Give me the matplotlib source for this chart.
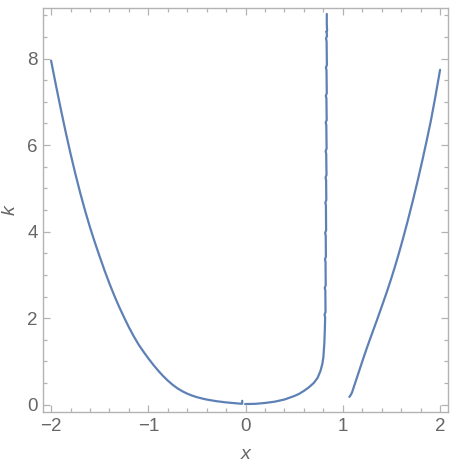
import matplotlib
matplotlib.use("Agg")
import matplotlib.pyplot as plt
from matplotlib.ticker import MultipleLocator

plt.rcParams['font.family'] = ['Liberation Sans', 'DejaVu Sans']

# Left branch (x, k)
left_x = [-2.0, -1.95, -1.9, -1.85, -1.8, -1.75, -1.7, -1.65, -1.6, -1.55, -1.5, -1.45,
          -1.4, -1.35, -1.3, -1.25, -1.2, -1.15, -1.1, -1.05, -1.0, -0.95, -0.9, -0.85,
          -0.8, -0.75, -0.7, -0.65, -0.6, -0.55, -0.5, -0.44, -0.4, -0.3, -0.2, -0.1,
          -0.044, -0.035, -0.035]
left_k = [7.95, 7.38, 6.83, 6.30, 5.80, 5.33, 4.89, 4.48, 4.10, 3.75, 3.42, 3.10,
          2.80, 2.52, 2.26, 2.02, 1.79, 1.58, 1.39, 1.225, 1.07, 0.925, 0.79, 0.667,
          0.557, 0.46, 0.377, 0.31, 0.255, 0.21, 0.174, 0.139, 0.119, 0.081, 0.053, 0.033,
          0.022, 0.022, 0.09]

# Middle branch: from near 0 up to the vertical asymptote
mid_x = [-0.005, 0.1, 0.2, 0.3, 0.4, 0.5, 0.55, 0.6, 0.65, 0.7, 0.74, 0.77, 0.79, 0.80, 0.81, 0.815,
         0.818, 0.812, 0.822, 0.820, 0.814, 0.824, 0.822, 0.816, 0.826, 0.824, 0.818, 0.828,
         0.826, 0.820, 0.830, 0.828, 0.822, 0.832, 0.829, 0.823, 0.833, 0.830, 0.824, 0.834,
         0.831, 0.825, 0.835, 0.832, 0.826, 0.836, 0.833, 0.827, 0.837, 0.834, 0.828, 0.838,
         0.835, 0.835]
mid_k = [0.015, 0.02, 0.04, 0.07, 0.12, 0.20, 0.25, 0.32, 0.40, 0.50, 0.62, 0.78, 0.95, 1.10, 1.43, 1.74,
         2.02, 2.08, 2.14, 2.64, 2.70, 2.76, 3.30, 3.36, 3.42, 3.91, 3.97, 4.03,
         4.61, 4.67, 4.73, 5.19, 5.25, 5.31, 5.80, 5.86, 5.92, 6.46, 6.52, 6.58,
         7.08, 7.14, 7.20, 7.73, 7.79, 7.85, 8.40, 8.46, 8.52, 8.60, 8.62, 8.64,
         8.8, 9.03]

# Right branch
right_x = [1.067, 1.080, 1.094, 1.15, 1.203, 1.25, 1.306, 1.35, 1.408, 1.45, 1.494, 1.54,
           1.579, 1.62, 1.665, 1.716, 1.77, 1.818, 1.86, 1.905, 1.95, 2.0]
right_k = [0.18, 0.22, 0.28, 0.66, 1.02, 1.33, 1.68, 1.95, 2.32, 2.59, 2.89, 3.22,
           3.52, 3.85, 4.23, 4.68, 5.18, 5.65, 6.08, 6.56, 7.10, 7.74]

x_ticks = [-2, -1, 0, 1, 2]
k_ticks = [0, 2, 4, 6, 8]

line_color = "#5E81B5"
frame_color = "#B3B3B3"
text_color = "#666666"

fig = plt.figure(figsize=(4.57, 4.69), dpi=100)
ax = fig.add_axes([0.0948, 0.1205, 0.8852, 0.8635])

for xs, ks in [(left_x, left_k), (mid_x, mid_k), (right_x, right_k)]:
    ax.plot(xs, ks, color=line_color, lw=1.6, solid_joinstyle="round", solid_capstyle="round")

ax.set_xlim(-2.08, 2.08)
ax.set_ylim(-0.18, 9.18)
ax.set_xticks(x_ticks)
ax.set_yticks(k_ticks)
ax.set_xticklabels(["\u22122", "\u22121", "0", "1", "2"])
ax.xaxis.set_minor_locator(MultipleLocator(0.2))
ax.yaxis.set_minor_locator(MultipleLocator(0.5))

for s in ax.spines.values():
    s.set_color(frame_color)
    s.set_linewidth(1.0)

ax.tick_params(which="both", direction="in", top=True, right=True, color=frame_color, width=0.9)
ax.tick_params(which="major", length=5, labelsize=13.5, labelcolor=text_color, pad=4)
ax.tick_params(which="minor", length=3)

ax.set_xlabel("x", fontsize=14, color=text_color, style="italic", labelpad=8)
ax.set_ylabel("k", fontsize=14, color=text_color, style="italic", labelpad=6)

fig.savefig("out.png", dpi=100)
